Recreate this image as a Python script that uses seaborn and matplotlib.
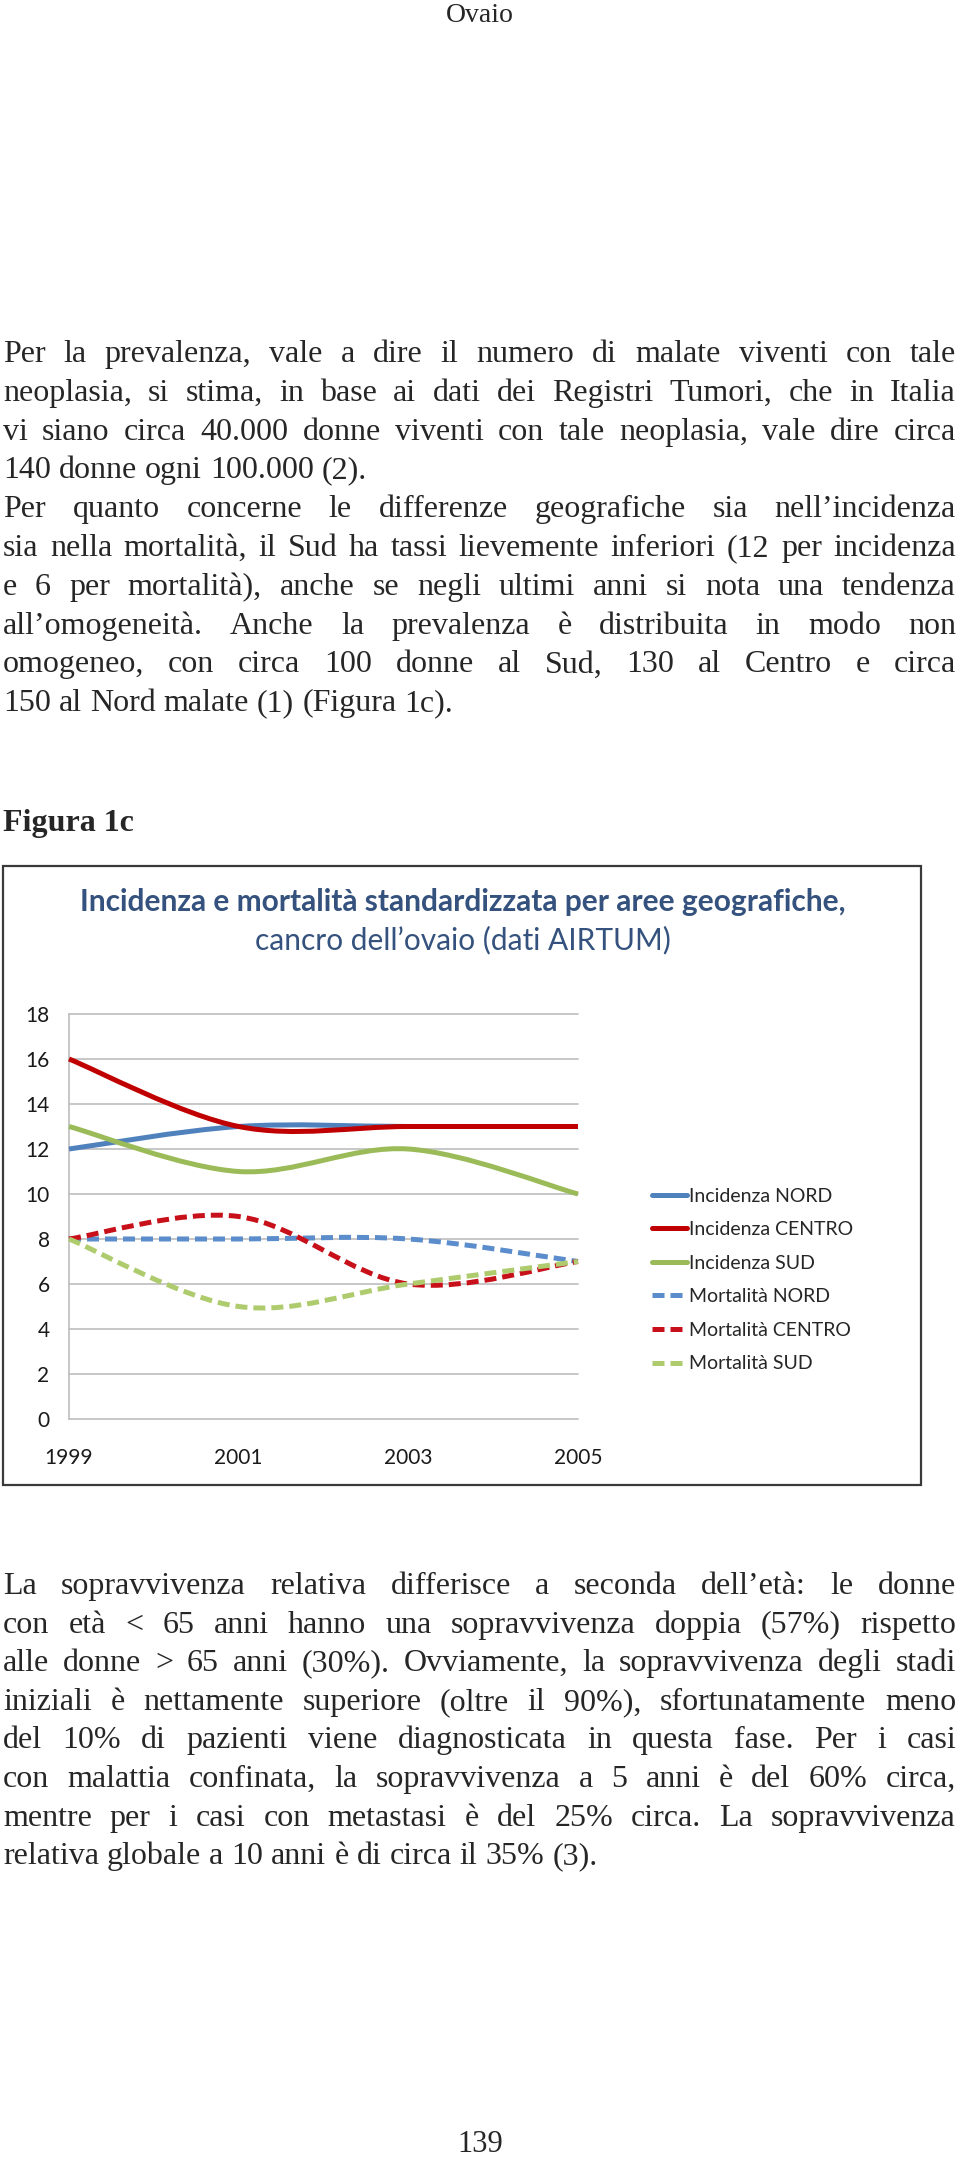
import matplotlib
matplotlib.use("Agg")
import numpy as np
import matplotlib.pyplot as plt
import seaborn as sns
from matplotlib.path import Path
from matplotlib.patches import PathPatch, Rectangle
from matplotlib.lines import Line2D

#---------------------------------------------------------------------------
# DATA
#---------------------------------------------------------------------------
years = [1999, 2001, 2003, 2005]
inc_nord = [12, 13, 13, 13]
inc_centro = [16, 13, 13, 13]
inc_sud = [13, 11, 12, 10]
mort_nord = [8, 8, 8, 7]
mort_centro = [8, 9, 6, 7]
mort_sud = [8, 5, 6, 7]

series_names = ["Incidenza NORD", "Incidenza CENTRO", "Incidenza SUD",
                "Mortalità NORD", "Mortalità CENTRO", "Mortalità SUD"]
series_values = [inc_nord, inc_centro, inc_sud, mort_nord, mort_centro, mort_sud]
series_colors = ["#4F81BD", "#C00000", "#9BBB59", "#5B8CCB", "#C8101A", "#AECB6E"]
series_dashed = [False, False, False, True, True, True]
y_ticks = list(range(0, 19, 2))

title_1 = "Incidenza e mortalità standardizzata per aree geografiche,"
title_2 = "cancro dell’ovaio (dati AIRTUM)"

par_1 = [
    "Per la prevalenza, vale a dire il numero di malate viventi con tale",
    "neoplasia, si stima, in base ai dati dei Registri Tumori, che in Italia",
    "vi siano circa 40.000 donne viventi con tale neoplasia, vale dire circa",
    "140 donne ogni 100.000 (2).",
    "Per quanto concerne le differenze geografiche sia nell’incidenza",
    "sia nella mortalità, il Sud ha tassi lievemente inferiori (12 per incidenza",
    "e 6 per mortalità), anche se negli ultimi anni si nota una tendenza",
    "all’omogeneità. Anche la prevalenza è distribuita in modo non",
    "omogeneo, con circa 100 donne al Sud, 130 al Centro e circa",
    "150 al Nord malate (1) (Figura 1c).",
]
par_1_last = [3, 9]

par_2 = [
    "La sopravvivenza relativa differisce a seconda dell’età: le donne",
    "con età < 65 anni hanno una sopravvivenza doppia (57%) rispetto",
    "alle donne > 65 anni (30%). Ovviamente, la sopravvivenza degli stadi",
    "iniziali è nettamente superiore (oltre il 90%), sfortunatamente meno",
    "del 10% di pazienti viene diagnosticata in questa fase. Per i casi",
    "con malattia confinata, la sopravvivenza a 5 anni è del 60% circa,",
    "mentre per i casi con metastasi è del 25% circa. La sopravvivenza",
    "relativa globale a 10 anni è di circa il 35% (3).",
]
par_2_last = [7]

W, H = 960, 2157
SERIF = "Liberation Serif"
SANS = "Lato"


def fx(x):
    return x / W


def fy(y):
    return 1 - y / H


def smooth_path(xs, ys):
    # excel-style smoothed line: cubic bezier through the points
    p = np.column_stack([xs, ys]).astype(float)
    verts = [p[0]]
    codes = [Path.MOVETO]
    n = len(p)
    for i in range(n - 1):
        p0 = p[i - 1] if i > 0 else p[i]
        p3 = p[i + 2] if i + 2 < n else p[i + 1]
        c1 = p[i] + (p[i + 1] - p0) / 6.0
        c2 = p[i + 1] - (p3 - p[i]) / 6.0
        verts += [c1, c2, p[i + 1]]
        codes += [Path.CURVE4] * 3
    return Path(verts, codes)


def justified(fig, renderer, lines, y0, step, last_idx, size, left=3, right=956):
    for k, line in enumerate(lines):
        y = y0 + k * step
        words = line.split(" ")
        texts = [fig.text(0, fy(y), w, fontsize=size, family=SERIF,
                          va="baseline", ha="left") for w in words]
        widths = [t.get_window_extent(renderer).width for t in texts]
        if k in last_idx or len(words) == 1:
            gap = size * 100 / 72 * 0.25
        else:
            gap = (right - left - sum(widths)) / (len(words) - 1)
        x = left
        for t, wd in zip(texts, widths):
            t.set_x(fx(x))
            x += wd + gap


def main():
    sns.set_style("white")
    plt.rcParams["font.family"] = [SANS, "DejaVu Sans"]

    fig = plt.figure(figsize=(W / 100, H / 100), dpi=100)
    renderer = fig.canvas.get_renderer()

    #-----------------------------------------------------------------------
    # PAGE TEXT
    #-----------------------------------------------------------------------
    fig.text(fx(480), fy(22), "Ovaio", family=SERIF, fontsize=20,
             ha="center", va="baseline")
    justified(fig, renderer, par_1, 362, 38.8, par_1_last, 23)
    fig.text(fx(3), fy(831), "Figura 1c", family=SERIF, fontsize=23,
             fontweight="bold", ha="left", va="baseline")
    justified(fig, renderer, par_2, 1594, 38.6, par_2_last, 23)
    fig.text(fx(480), fy(2152), "139", family=SERIF, fontsize=22,
             ha="center", va="baseline")

    #-----------------------------------------------------------------------
    # CHART
    #-----------------------------------------------------------------------
    fig.patches.append(Rectangle((fx(3), fy(1485)), fx(918), (1485 - 866) / H,
                                 transform=fig.transFigure, fill=False,
                                 edgecolor="#3a3a3a", linewidth=1.6))
    title_color = "#34527D"
    fig.text(fx(463), fy(902), title_1, fontsize=21.5, fontweight="bold",
             color=title_color, ha="center", va="center")
    fig.text(fx(463), fy(940), title_2, fontsize=21.5,
             color=title_color, ha="center", va="center")

    ax = fig.add_axes([fx(69), fy(1419), (578 - 69) / W, (1419 - 1014) / H])
    ax.set_xlim(years[0], years[-1])
    ax.set_ylim(0, 18)
    ax.set_yticks(y_ticks)
    ax.set_xticks(years)
    ax.set_xticklabels([str(y) for y in years])
    ax.tick_params(axis="y", length=0, pad=14, labelsize=15, labelcolor="#1a1a1a")
    ax.tick_params(axis="x", length=0, pad=21, labelsize=15, labelcolor="#1a1a1a")
    ax.yaxis.grid(True, color="#BEBEBE", linewidth=1.2)
    ax.xaxis.grid(False)
    for gl in ax.get_ygridlines():
        gl.set_clip_on(False)
    sns.despine(ax=ax, top=True, right=True, bottom=True, left=False)
    ax.spines["left"].set_color("#BEBEBE")
    ax.spines["left"].set_linewidth(1.2)

    handles = []
    for name, vals, col, dashed in zip(series_names, series_values,
                                       series_colors, series_dashed):
        ls = (0, (2.4, 1.2)) if dashed else "-"
        patch = PathPatch(smooth_path(years, vals), fill=False, edgecolor=col,
                          linewidth=3.6, linestyle=ls, capstyle="butt",
                          joinstyle="round", clip_on=False, zorder=3)
        ax.add_patch(patch)
        handles.append(Line2D([], [], color=col, linewidth=3.6, linestyle=ls,
                              dash_capstyle="butt", label=name))

    fig.legend(handles=handles, loc="center left",
               bbox_to_anchor=(fx(652), fy(1280)), frameon=False,
               fontsize=14, handlelength=1.8, handletextpad=0.1,
               labelspacing=0.85, borderpad=0, borderaxespad=0)

    fig.savefig("out.png", dpi=100)
    plt.close(fig)


if __name__ == "__main__":
    main()
